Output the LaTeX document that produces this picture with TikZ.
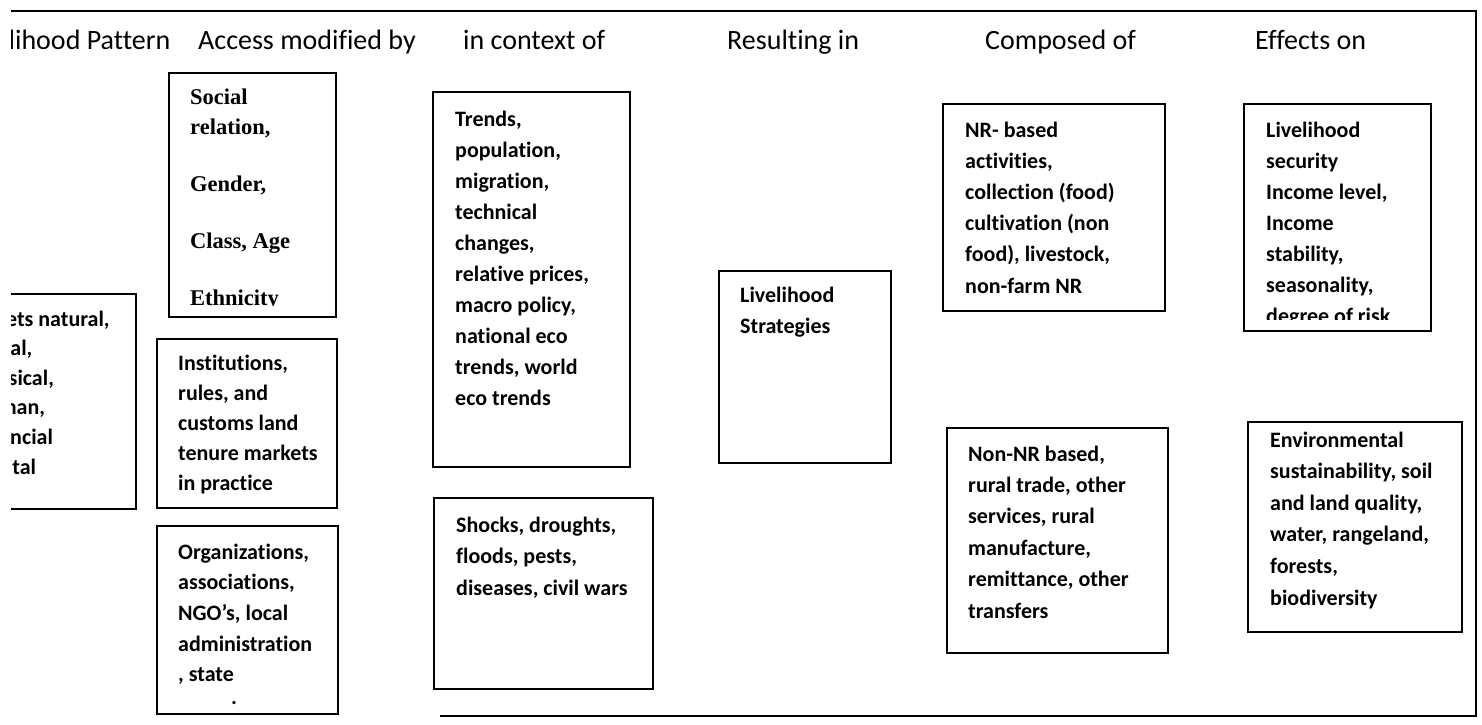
\documentclass[tikz,border=0pt]{standalone}
\usepackage{fontspec}
\setmainfont[Ligatures=NoCommon]{Carlito}
\newfontfamily\timesface{Liberation Serif}
\tikzset{
  head/.style={font=\fontsize{28}{32}\selectfont, inner sep=0pt, anchor=base west},
  body/.style={font=\bfseries\fontsize{22}{26}\selectfont, inner sep=0pt, anchor=base west},
  serifbody/.style={font=\timesface\bfseries\fontsize{22.5}{26}\selectfont, inner sep=0pt, anchor=base west},
  boxr/.style={draw, line width=2pt, inner sep=0pt, anchor=north west},
  frameline/.style={line width=2pt}
}
% #1 name, #2 x, #3 first baseline, #4 line spacing, #5 lines
\newcommand\boxlines[5]{%
  \foreach \l [count=\i from 0] in {#5}{%
    \node[body] (#1-\i) at (#2, {#3+\i*#4}) {\l};
  }%
}
\begin{document}
\begin{tikzpicture}[x=1pt,y=-1pt]
\useasboundingbox (0,0) rectangle (1482,724);
\begin{scope}
\clip (11,0) rectangle (1482,724);

% outer frame
\coordinate (fTL) at (11,11);
\coordinate (fTR) at (1476,11);
\coordinate (fBR) at (1476,716);
\coordinate (fBL) at (440,716);
\draw[frameline] (fTL) -- (fTR) -- (fBR) -- (fBL);

% column headings
\node[head] (h1) at (-36,49) {Livelihood Pattern};
\node[head] (h2) at (198,49) {Access modified by};
\node[head] (h3) at (463,49) {in context of};
\node[head] (h4) at (727,49) {Resulting in};
\node[head] (h5) at (985,49) {Composed of};
\node[head] (h6) at (1255,49) {Effects on};

% boxes
\node[boxr, minimum width=180, minimum height=215] (assets) at (-45,293) {};
\node[boxr, minimum width=167, minimum height=244] (social) at (168,72) {};
\node[boxr, minimum width=180, minimum height=169] (inst) at (156,338) {};
\node[boxr, minimum width=181, minimum height=188] (org) at (156,525) {};
\node[boxr, minimum width=197, minimum height=375] (trends) at (432,91) {};
\node[boxr, minimum width=219, minimum height=191] (shocks) at (433,497) {};
\node[boxr, minimum width=172, minimum height=192] (strat) at (718,270) {};
\node[boxr, minimum width=222, minimum height=207] (nr) at (942,103) {};
\node[boxr, minimum width=221, minimum height=225] (nonnr) at (946,427) {};
\node[boxr, minimum width=187, minimum height=227] (secur) at (1243,103) {};
\node[boxr, minimum width=214, minimum height=210] (env) at (1247,421) {};

% box texts
\boxlines{assets-t}{-25}{326}{29.6}{{Assets natural,},{social,},{physical,},{human,},{financial},{capital}}

\begin{scope}
\clip (168,72) rectangle (335,305);
\node[serifbody] (social-t0) at (190,104) {Social};
\node[serifbody] (social-t1) at (190,134) {relation,};
\node[serifbody] (social-t2) at (190,191) {Gender,};
\node[serifbody] (social-t3) at (190,248) {Class, Age};
\node[serifbody] (social-t4) at (190,305) {Ethnicity};
\end{scope}

\boxlines{inst-t}{178}{370}{30}{{Institutions,},{rules, and},{customs land},{tenure markets},{in practice}}
\boxlines{org-t}{178}{559}{30.7}{{Organizations,},{associations,},{NGO’s, local},{administration},{, state}}
\node[body, anchor=base] (org-dot) at (234,704) {.};

\boxlines{trends-t}{455}{126}{31}{{Trends,},{population,},{migration,},{technical},{changes,},{relative prices,},{macro policy,},{national eco},{trends, world},{eco trends}}
\boxlines{shocks-t}{456}{532}{31.5}{{Shocks, droughts,},{floods, pests,},{diseases, civil wars}}
\boxlines{strat-t}{740}{302}{31}{{Livelihood},{Strategies}}
\boxlines{nr-t}{965}{137}{31.2}{{NR- based},{activities,},{collection (food)},{cultivation (non},{food), livestock,},{non-farm NR}}
\boxlines{nonnr-t}{968}{461}{31.4}{{Non-NR based,},{rural trade, other},{services, rural},{manufacture,},{remittance, other},{transfers}}

\begin{scope}
\clip (1243,103) rectangle (1430,319);
\boxlines{secur-t}{1266}{137}{31}{{Livelihood},{security},{Income level,},{Income},{stability,},{seasonality,},{degree of risk}}
\end{scope}

\boxlines{env-t}{1270}{447}{31.6}{{Environmental},{sustainability, soil},{and land quality,},{water, rangeland,},{forests,},{biodiversity}}
\end{scope}
\end{tikzpicture}
\end{document}
